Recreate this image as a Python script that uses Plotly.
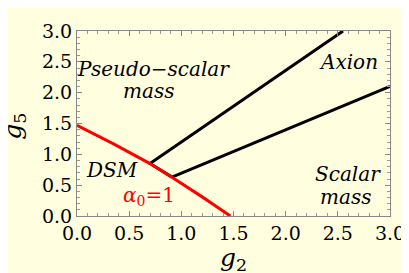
import plotly.graph_objects as go

# data
red_g2 = [0.0, 0.35, 0.70, 0.91, 1.20, 1.47]
red_g5 = [1.47, 1.17, 0.85, 0.63, 0.31, 0.0]
mid_g2 = [0.70, 0.91]
mid_g5 = [0.85, 0.63]
upper_g2 = [0.70, 2.55]
upper_g5 = [0.85, 3.0]
lower_g2 = [0.91, 3.0]
lower_g5 = [0.63, 2.10]
ticks = [0.0, 0.5, 1.0, 1.5, 2.0, 2.5, 3.0]
tick_text = ["0.0", "0.5", "1.0", "1.5", "2.0", "2.5", "3.0"]

f_tick = "DejaVu Serif"
f_ann = "DejaVu Serif"
f_title = "DejaVu Serif"
bg = "#FFFFE0"

fig = go.Figure()
fig.add_trace(go.Scatter(x=upper_g2, y=upper_g5, mode="lines", line=dict(color="black", width=3), showlegend=False))
fig.add_trace(go.Scatter(x=lower_g2, y=lower_g5, mode="lines", line=dict(color="black", width=3), showlegend=False))
fig.add_trace(go.Scatter(x=mid_g2, y=mid_g5, mode="lines", line=dict(color="black", width=3), showlegend=False))
fig.add_trace(go.Scatter(x=red_g2, y=red_g5, mode="lines", line=dict(color="#FF0000", width=3), showlegend=False))

labels = [
    ("<i>Pseudo\u2212scalar</i>", 0.73, 2.38, "black"),
    ("<i>mass</i>", 0.69, 2.03, "black"),
    ("<i>Axion</i>", 2.60, 2.50, "black"),
    ("<i>Scalar</i>", 2.60, 0.68, "black"),
    ("<i>mass</i>", 2.57, 0.31, "black"),
    ("<i>DSM</i>", 0.34, 0.74, "black"),
    ("<i>\u03b1</i><sub>0</sub>=1", 0.69, 0.32, "#FF0000"),
]
for t, x, y, c in labels:
    fig.add_annotation(x=x, y=y, text=t, showarrow=False, xanchor="center", yanchor="middle",
                       font=dict(family=f_ann, size=20, color=c))

fig.add_annotation(xref="paper", yref="paper", x=0.5, y=-0.232, text="<i>g</i><sub>2</sub>",
                   xanchor="center", yanchor="middle",
                   showarrow=False, font=dict(family=f_title, size=25, color="black"))
fig.add_annotation(xref="paper", yref="paper", x=-0.2, y=0.485, text="<i>g</i><sub>5</sub>", textangle=-90,
                   xanchor="center", yanchor="middle",
                   showarrow=False, font=dict(family=f_title, size=25, color="black"))

axis_common = dict(
    range=[0, 3], tickvals=ticks, ticktext=tick_text, ticks="inside", ticklen=5,
    tickcolor="#888888", linecolor="#888888", linewidth=1, mirror="allticks",
    showgrid=False, zeroline=False, showline=True,
    tickfont=dict(family=f_tick, size=19, color="black"),
    minor=dict(dtick=0.1, ticks="inside", ticklen=3, tickcolor="#999999", showgrid=False),
)
fig.update_xaxes(**axis_common)
fig.update_yaxes(**axis_common)

fig.update_layout(
    width=409, height=273, margin=dict(l=69, r=16, t=14, b=65),
    paper_bgcolor=bg, plot_bgcolor=bg,
)
fig.write_html("out.html")
